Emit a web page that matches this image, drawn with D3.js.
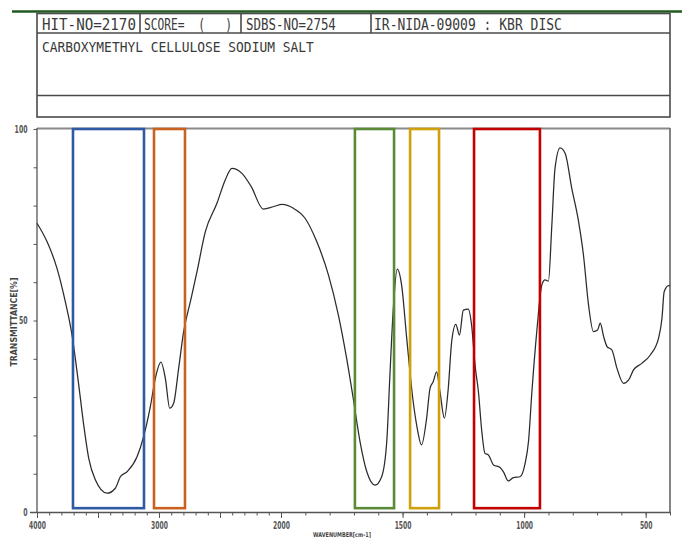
<!DOCTYPE html>
<html><head><meta charset="utf-8">
<script src="https://cdn.jsdelivr.net/npm/d3@7/dist/d3.min.js"></script>
<style>body{margin:0;background:#fff;} svg{display:block}</style>
</head><body>
<svg id="c" width="682" height="538"></svg>
<script>
// ---- data ----
const wavenumbers = [4000, 3918, 3836, 3768, 3713, 3658, 3617, 3576, 3522, 3426,
  3358, 3317, 3262, 3180, 3126, 3071, 3030, 2984, 2948, 2912,
  2880, 2839, 2798, 2743, 2689, 2620, 2525, 2457, 2402, 2320,
  2245, 2145, 2063, 1995, 1949, 1901, 1853, 1805, 1764, 1730,
  1703, 1675, 1647, 1613, 1586, 1565, 1552, 1538, 1522, 1504,
  1483, 1458, 1442, 1422, 1401, 1387, 1374, 1360, 1346, 1328,
  1312, 1298, 1281, 1266, 1250, 1230, 1216, 1202, 1188, 1174,
  1161, 1147, 1126, 1099, 1085, 1065, 1044, 1017, 996, 982,
  968, 948, 927, 914, 900, 886, 873, 852, 831, 804,
  776, 756, 735, 715, 698, 687, 673, 659, 639, 618,
  591, 570, 550, 516, 481, 447, 433, 424, 406, 400];
const transmittance = [75.4, 70.6, 63.6, 54.9, 46.2, 33.2, 22.7, 14.0, 8.4, 4.9,
  6.2, 9.2, 10.5, 14.4, 19.7, 27.5, 34.9, 39.1, 34.9, 27.1,
  28.4, 37.5, 47.1, 54.9, 62.7, 73.2, 80.6, 86.7, 89.7, 88.4,
  85.0, 79.1, 79.7, 80.3, 79.3, 76.7, 70.6, 61.9, 51.4, 40.1,
  29.7, 18.4, 10.5, 7.0, 9.2, 18.4, 35.8, 53.2, 63.4, 59.3,
  45.4, 29.7, 22.7, 17.5, 24.5, 32.3, 34.0, 36.6, 31.4, 24.5,
  32.3, 44.5, 49.0, 46.2, 52.7, 53.0, 48.8, 38.4, 31.4, 21.0,
  15.3, 14.9, 12.3, 11.6, 10.5, 8.1, 9.0, 9.2, 12.7, 18.4,
  31.4, 47.1, 59.3, 60.6, 60.3, 74.9, 89.7, 95.1, 93.6, 84.5,
  75.8, 67.1, 54.0, 47.1, 47.5, 49.3, 45.8, 43.2, 42.3, 37.5,
  33.6, 34.5, 37.1, 38.8, 41.0, 45.4, 50.6, 57.5, 59.1, 59.0];

// highlight boxes: wavenumber ranges
const boxNames  = ["O-H", "C-H", "COO- asym", "COO- sym", "C-O"];
const boxFrom   = [3705, 3041, 1696, 1469, 1206];
const boxTo     = [3123, 2787, 1535, 1350, 935];
const boxColors = ["#2f5aa3", "#c9621e", "#5a8a38", "#cf9f0c", "#c30000"];
const boxTop = 100, boxBottom = 1;

const xTickLabels = [4000, 3000, 2000, 1500, 1000, 500];
const yTickLabels = [0, 50, 100];

const headerRow1 = [
  {t: "HIT-NO=2170", x: 42, len: 94},
  {t: "SCORE=  (   )", x: 144, len: 88},
  {t: "SDBS-NO=2754", x: 246, len: 90},
  {t: "IR-NIDA-09009 : KBR DISC", x: 374, len: 188}
];
const headerRow2 = "CARBOXYMETHYL CELLULOSE SODIUM SALT";

// ---- drawing ----
const svg = d3.select("#c");
const x = d3.scaleLinear().domain([4000, 2000, 400]).range([37, 281, 670]);
const y = d3.scaleLinear().domain([0, 100]).range([512, 129]);

// fit a text to a width by horizontal scaling
function fitText(sel, tx, ty, len) {
  const w = sel.node().getComputedTextLength() || len;
  sel.attr("transform", `translate(${tx},${ty}) scale(${len / w},1)`);
}

// green top rule
svg.append("line").attr("x1", 12).attr("x2", 682).attr("y1", 11.5).attr("y2", 11.5)
  .attr("stroke", "#1f5a1f").attr("stroke-width", 2.5);

// header box
const hb = svg.append("g").attr("stroke", "#4a4a4a").attr("stroke-width", 1.6).attr("fill", "none");
hb.append("rect").attr("x", 37).attr("y", 13.5).attr("width", 633).attr("height", 103.5);
hb.append("line").attr("x1", 37).attr("x2", 670).attr("y1", 33).attr("y2", 33);
hb.append("line").attr("x1", 37).attr("x2", 670).attr("y1", 95.5).attr("y2", 95.5);
[140, 241, 371].forEach(v => hb.append("line").attr("x1", v).attr("x2", v).attr("y1", 13.5).attr("y2", 33));

const hf = "'DejaVu Sans Mono', 'Liberation Mono', monospace";
headerRow1.forEach(d => {
  const t = svg.append("text").text(d.t)
    .attr("font-family", hf).attr("font-size", 15).attr("fill", "#3a3a3a")
    .style("white-space", "pre");
  fitText(t, d.x, 29.5, d.len);
});
const t2 = svg.append("text").text(headerRow2)
  .attr("font-family", hf).attr("font-size", 14).attr("fill", "#3a3a3a");
fitText(t2, 42, 52, 272);

// plot frame
svg.append("line").attr("x1", 37).attr("x2", 670).attr("y1", 128.5).attr("y2", 128.5)
  .attr("stroke", "#8a8a8a").attr("stroke-width", 2);
svg.append("line").attr("x1", 670).attr("x2", 670).attr("y1", 128).attr("y2", 512)
  .attr("stroke", "#777").attr("stroke-width", 1.8);

// x axis
const minorX = d3.range(4000, 399, -100);
const gxMinor = svg.append("g").attr("transform", "translate(0,512)")
  .call(d3.axisBottom(x).tickValues(minorX).tickSize(3.5).tickFormat(""));
const majorX = [4000, 3500, 3000, 2500, 2000, 1500, 1000, 500];
const gxMajor = svg.append("g").attr("transform", "translate(0,512)")
  .call(d3.axisBottom(x).tickValues(majorX).tickSize(6).tickPadding(4)
    .tickFormat(d => xTickLabels.includes(d) ? String(d) : ""));
[gxMinor, gxMajor].forEach(g => {
  g.select(".domain").remove();
  g.selectAll(".tick line").attr("stroke", "#555").attr("stroke-width", 1);
});
gxMajor.selectAll(".tick text")
  .attr("font-family", "'DejaVu Sans', sans-serif").attr("font-size", 10).attr("fill", "#555")
  .attr("font-weight", "bold")
  .attr("textLength", d => String(d).length * 4.2).attr("lengthAdjust", "spacingAndGlyphs");
svg.append("line").attr("x1", 30).attr("x2", 670).attr("y1", 512.5).attr("y2", 512.5)
  .attr("stroke", "#555").attr("stroke-width", 1.3);

// y axis
const gy = svg.append("g").attr("transform", "translate(37,0)")
  .call(d3.axisLeft(y).tickValues(d3.range(0, 101, 10)).tickSize(3.5).tickPadding(6)
    .tickFormat(d => yTickLabels.includes(d) ? String(d) : ""));
gy.select(".domain").remove();
gy.selectAll(".tick line").attr("stroke", "#555");
gy.selectAll(".tick text")
  .attr("font-family", "'DejaVu Sans', sans-serif").attr("font-size", 10).attr("fill", "#555")
  .attr("font-weight", "bold")
  .attr("textLength", d => String(d).length * 4.3).attr("lengthAdjust", "spacingAndGlyphs");
svg.append("line").attr("x1", 37).attr("x2", 37).attr("y1", 128).attr("y2", 513)
  .attr("stroke", "#555").attr("stroke-width", 1.3);

// axis titles
svg.append("text").attr("transform", "translate(17,322) rotate(-90)")
  .attr("text-anchor", "middle").text("TRANSMITTANCE[%]")
  .attr("font-family", "'DejaVu Sans', sans-serif").attr("font-size", 8).attr("font-weight", "bold")
  .attr("fill", "#444").attr("textLength", 89).attr("lengthAdjust", "spacingAndGlyphs");
const xTitle = svg.append("text").text("WAVENUMBER[cm-1]")
  .attr("font-family", "'DejaVu Sans', sans-serif").attr("font-size", 6.5).attr("font-weight", "bold")
  .attr("fill", "#444");
fitText(xTitle, 313, 536.5, 58);

// spectrum
const pts = wavenumbers.map((w, i) => [w, transmittance[i]]);
svg.append("path").datum(pts)
  .attr("d", d3.line().x(d => x(d[0])).y(d => y(d[1])).curve(d3.curveMonotoneX))
  .attr("fill", "none").attr("stroke", "#2b2b2b").attr("stroke-width", 1.25);

// highlight boxes
boxNames.forEach((n, i) => {
  svg.append("rect")
    .attr("x", x(boxFrom[i])).attr("y", y(boxTop))
    .attr("width", x(boxTo[i]) - x(boxFrom[i])).attr("height", y(boxBottom) - y(boxTop))
    .attr("fill", "none").attr("stroke", boxColors[i]).attr("stroke-width", 2.6);
});
</script></body></html>
